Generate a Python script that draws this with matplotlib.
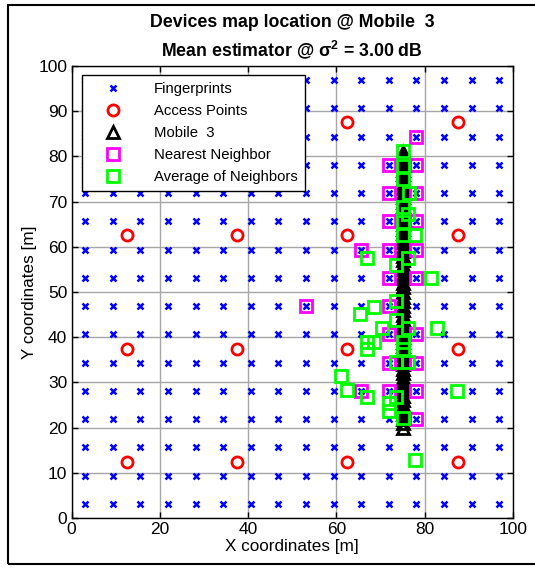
import matplotlib
matplotlib.use("Agg")
import matplotlib.pyplot as plt
from matplotlib.patches import Rectangle
import numpy as np

plt.rcParams['font.family'] = ['Liberation Sans', 'DejaVu Sans']
plt.rcParams['mathtext.fontset'] = 'custom'
plt.rcParams['mathtext.rm'] = 'Liberation Sans'
plt.rcParams['mathtext.bf'] = 'Liberation Sans:bold'
plt.rcParams['mathtext.it'] = 'Liberation Sans:italic'

# Fingerprint grid coordinates (same along X and Y)
fp_coords = [3.125, 9.375, 15.625, 21.875, 28.125, 34.375, 40.625, 46.875,
             53.125, 59.375, 65.625, 71.875, 78.125, 84.375, 90.625, 96.875]

# Access point grid coordinates
ap_coords = [12.5, 37.5, 62.5, 87.5]

# Mobile 3 trajectory
mobile_x = 75.0
mobile_y = [20, 21, 22, 23, 24, 25, 26, 27, 28, 29, 30, 31, 32, 33, 34, 35,
            36, 37, 38, 39, 40, 41, 42, 43, 44, 45, 46, 47, 48, 49, 50, 51,
            52, 53, 54, 55, 56, 57, 58, 59, 60, 61, 62, 63, 64, 65, 66, 67,
            68, 69, 70, 71, 72, 73, 74, 75, 76, 77, 78, 79, 80, 81]

# Nearest-neighbour fingerprints
nn_x = [78.125, 71.875, 78.125, 71.875, 78.125, 71.875, 78.125,
        65.625, 71.875, 78.125, 71.875, 78.125, 53.125, 71.875,
        71.875, 78.125, 71.875, 78.125, 65.625, 71.875, 78.125, 78.125]
nn_y = [84.375, 78.125, 78.125, 71.875, 71.875, 65.625, 65.625,
        59.375, 59.375, 59.375, 53.125, 53.125, 46.875, 46.875,
        40.625, 40.625, 34.375, 34.375, 28.125, 28.125, 28.125, 21.875]

# Mean-of-neighbours estimates
avg_x = [75.0, 75.0, 75.0, 76.5, 75.0, 76.3, 75.0, 77.8, 75.0,
         66.9, 76.3, 73.4, 81.5, 73.4, 68.5, 65.4, 73.4, 70.3, 76.3,
         82.8, 67.0, 68.5, 67.0, 75.0, 75.0, 73.4, 76.3, 61.0, 62.5,
         67.0, 73.4, 71.9, 71.9, 75.0, 87.3, 77.7]
avg_y = [81.2, 77.8, 74.9, 71.8, 68.7, 67.2, 65.5, 62.5, 62.5,
         57.6, 57.6, 56.0, 53.0, 48.1, 46.6, 45.1, 43.8, 42.0, 42.0,
         42.0, 39.0, 39.0, 37.3, 39.0, 37.3, 34.5, 34.5, 31.5, 28.3,
         26.7, 26.7, 25.4, 23.6, 22.2, 28.2, 12.8]

x_ticks = [0, 20, 40, 60, 80, 100]
y_ticks = [0, 10, 20, 30, 40, 50, 60, 70, 80, 90, 100]

W, H = 535, 568
fig = plt.figure(figsize=(W / 100, H / 100), dpi=100)
ax = fig.add_axes([71.5 / W, 1 - 518 / H, (513 - 71.5) / W, (518 - 66) / H])

fx, fy = np.meshgrid(fp_coords, fp_coords)
ax.plot(fx.ravel(), fy.ravel(), 'x', color=(0, 0, 1), markersize=4.5,
        markeredgewidth=1.8, linestyle='none', label='Fingerprints')

ax_, ay_ = np.meshgrid(ap_coords, ap_coords)
ax.plot(ax_.ravel(), ay_.ravel(), 'o', markerfacecolor='none',
        markeredgecolor=(1, 0, 0), markersize=8, markeredgewidth=2,
        linestyle='none', label='Access Points')

ax.plot([mobile_x] * len(mobile_y), mobile_y, '^', markerfacecolor='none',
        markeredgecolor='black', markersize=9, markeredgewidth=2,
        linestyle='none', label='Mobile  3')

ax.plot(nn_x, nn_y, 's', markerfacecolor='none', markeredgecolor=(1, 0, 1),
        markersize=8.5, markeredgewidth=2, linestyle='none',
        label='Nearest Neighbor')

ax.plot(avg_x, avg_y, 's', markerfacecolor='none', markeredgecolor=(0, 1, 0),
        markersize=8.5, markeredgewidth=2, linestyle='none',
        label='Average of Neighbors')

ax.set_xlim(0, 100)
ax.set_ylim(0, 100)
ax.set_xticks(x_ticks)
ax.set_yticks(y_ticks)
ax.tick_params(direction='in', top=True, right=True, length=4, width=1,
               labelsize=12.5, pad=3)
ax.grid(True, color='#a6a6a6', linewidth=1.0, linestyle='-')
ax.set_axisbelow(True)
for s in ax.spines.values():
    s.set_linewidth(1.0)

ax.set_xlabel('X coordinates [m]', fontsize=12.3, labelpad=1)
ax.set_ylabel('Y coordinates [m]', fontsize=12.3, labelpad=1)
ax.set_title('Devices map location @ Mobile  3\n'
             r'Mean estimator @ $\mathbf{\sigma^2}$ = 3.00 dB',
             fontsize=12.8, fontweight='bold', linespacing=1.4, pad=7)

leg = ax.legend(loc='upper left', bbox_to_anchor=(0.024, 0.98),
                fontsize=10.7, frameon=True, fancybox=False, edgecolor='black',
                framealpha=1, borderpad=0.45, labelspacing=0.55,
                handletextpad=1.1, handlelength=3.3, borderaxespad=0)
leg.get_frame().set_linewidth(1.0)

# Outer frame (right side runs past the canvas edge)
fig.patches.append(Rectangle((8 / W, 1 - 564 / H), (545 - 8) / W, (564 - 5) / H,
                             transform=fig.transFigure, fill=False,
                             edgecolor='black', linewidth=1.5))

fig.savefig('out.png', dpi=100)
